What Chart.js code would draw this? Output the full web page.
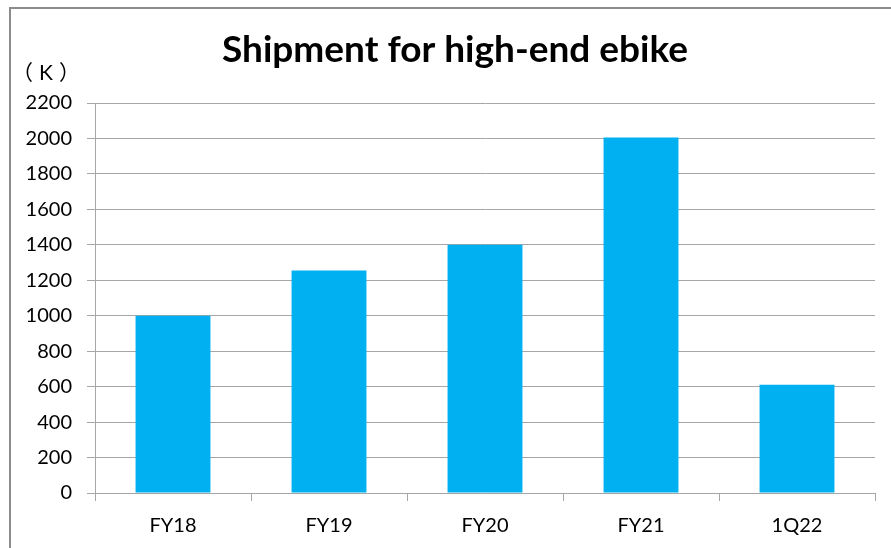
<!DOCTYPE html>
<html>
<head>
<meta charset="utf-8">
<script src="https://cdn.jsdelivr.net/npm/chart.js@4.4.0/dist/chart.umd.min.js"></script>
<style>
  html, body { margin: 0; padding: 0; background: #fff; }
  #wrap { position: relative; width: 891px; height: 548px; overflow: hidden; }
  #frame { position: absolute; left: 9px; top: 7px; width: 2000px; height: 2000px;
           border-left: 2px solid #8c8c8c; border-top: 2px solid #8c8c8c; }
  #c { position: absolute; left: 0; top: 0; }
</style>
</head>
<body>
<div id="wrap">
  <div id="frame"></div>
  <canvas id="c" width="891" height="548"></canvas>
</div>
<script>
'use strict';
// Shipment for high-end ebike (K units)
var categories = ['FY18', 'FY19', 'FY20', 'FY21', '1Q22'];
var shipments = [1000, 1255, 1400, 2005, 610];
var yTicks = [0, 200, 400, 600, 800, 1000, 1200, 1400, 1600, 1800, 2000, 2200];
var chartTitle = 'Shipment for high-end ebike';
var unitLabel = '（K）';

(function () {
    var FONT = 'Lato, "Noto Sans CJK SC", sans-serif';
    var GRID = '#a6a6a6';

    // title and unit label, placed from the plot area
    var textPlugin = {
        id: 'headText',
        afterDraw: function (chart) {
            var ctx = chart.ctx, y = chart.scales.y, a = chart.chartArea;
            ctx.save();
            ctx.fillStyle = '#000';
            ctx.textAlign = 'center';
            ctx.textBaseline = 'middle';
            ctx.font = 'bold 37px ' + FONT;
            ctx.fillText(chartTitle, (a.left + a.right) / 2 - 30, a.top - 53);
            ctx.font = '21px ' + FONT;
            if ('letterSpacing' in ctx) {
                ctx.letterSpacing = '6px';
            }
            ctx.fillText(unitLabel, y.right - 46, a.top - 30);
            ctx.restore();
        }
    };

    function build()
    {
        new Chart(document.getElementById('c').getContext('2d'), {
            type: 'bar',
            data: {
                labels: categories,
                datasets: [{
                    data: shipments,
                    backgroundColor: '#00b0f0',
                    borderWidth: 0,
                    categoryPercentage: 1,
                    barPercentage: 0.48
                }]
            },
            options: {
                responsive: false,
                animation: false,
                layout: { padding: { left: 0, right: 16, top: 103, bottom: 0 } },
                plugins: {
                    legend: { display: false },
                    tooltip: { enabled: false },
                    title: { display: false }
                },
                scales: {
                    x: {
                        offset: true,
                        afterFit: function (s) { s.height = 55; },
                        grid: { offset: true, drawOnChartArea: false, drawTicks: true,
                                tickLength: 8, color: GRID },
                        border: { color: GRID },
                        ticks: { color: '#000', padding: 13,
                                 font: { family: FONT, size: 20, lineHeight: 1.2 } }
                    },
                    y: {
                        min: 0,
                        max: 2200,
                        afterBuildTicks: function (s) {
                            s.ticks = yTicks.map(function (v) { return { value: v }; });
                        },
                        afterFit: function (s) { s.width = 95; },
                        grid: { color: GRID, tickLength: 8, drawTicks: true },
                        border: { color: GRID },
                        ticks: { color: '#000', padding: 15,
                                 callback: function (v) { return String(v); },
                                 font: { family: FONT, size: 20, lineHeight: 1.2 } }
                    }
                }
            },
            plugins: [textPlugin]
        });
    }
    if (document.readyState === 'loading') {
        document.addEventListener('DOMContentLoaded', build); } else {
        build();
    }
})();
</script>
</body>
</html>
